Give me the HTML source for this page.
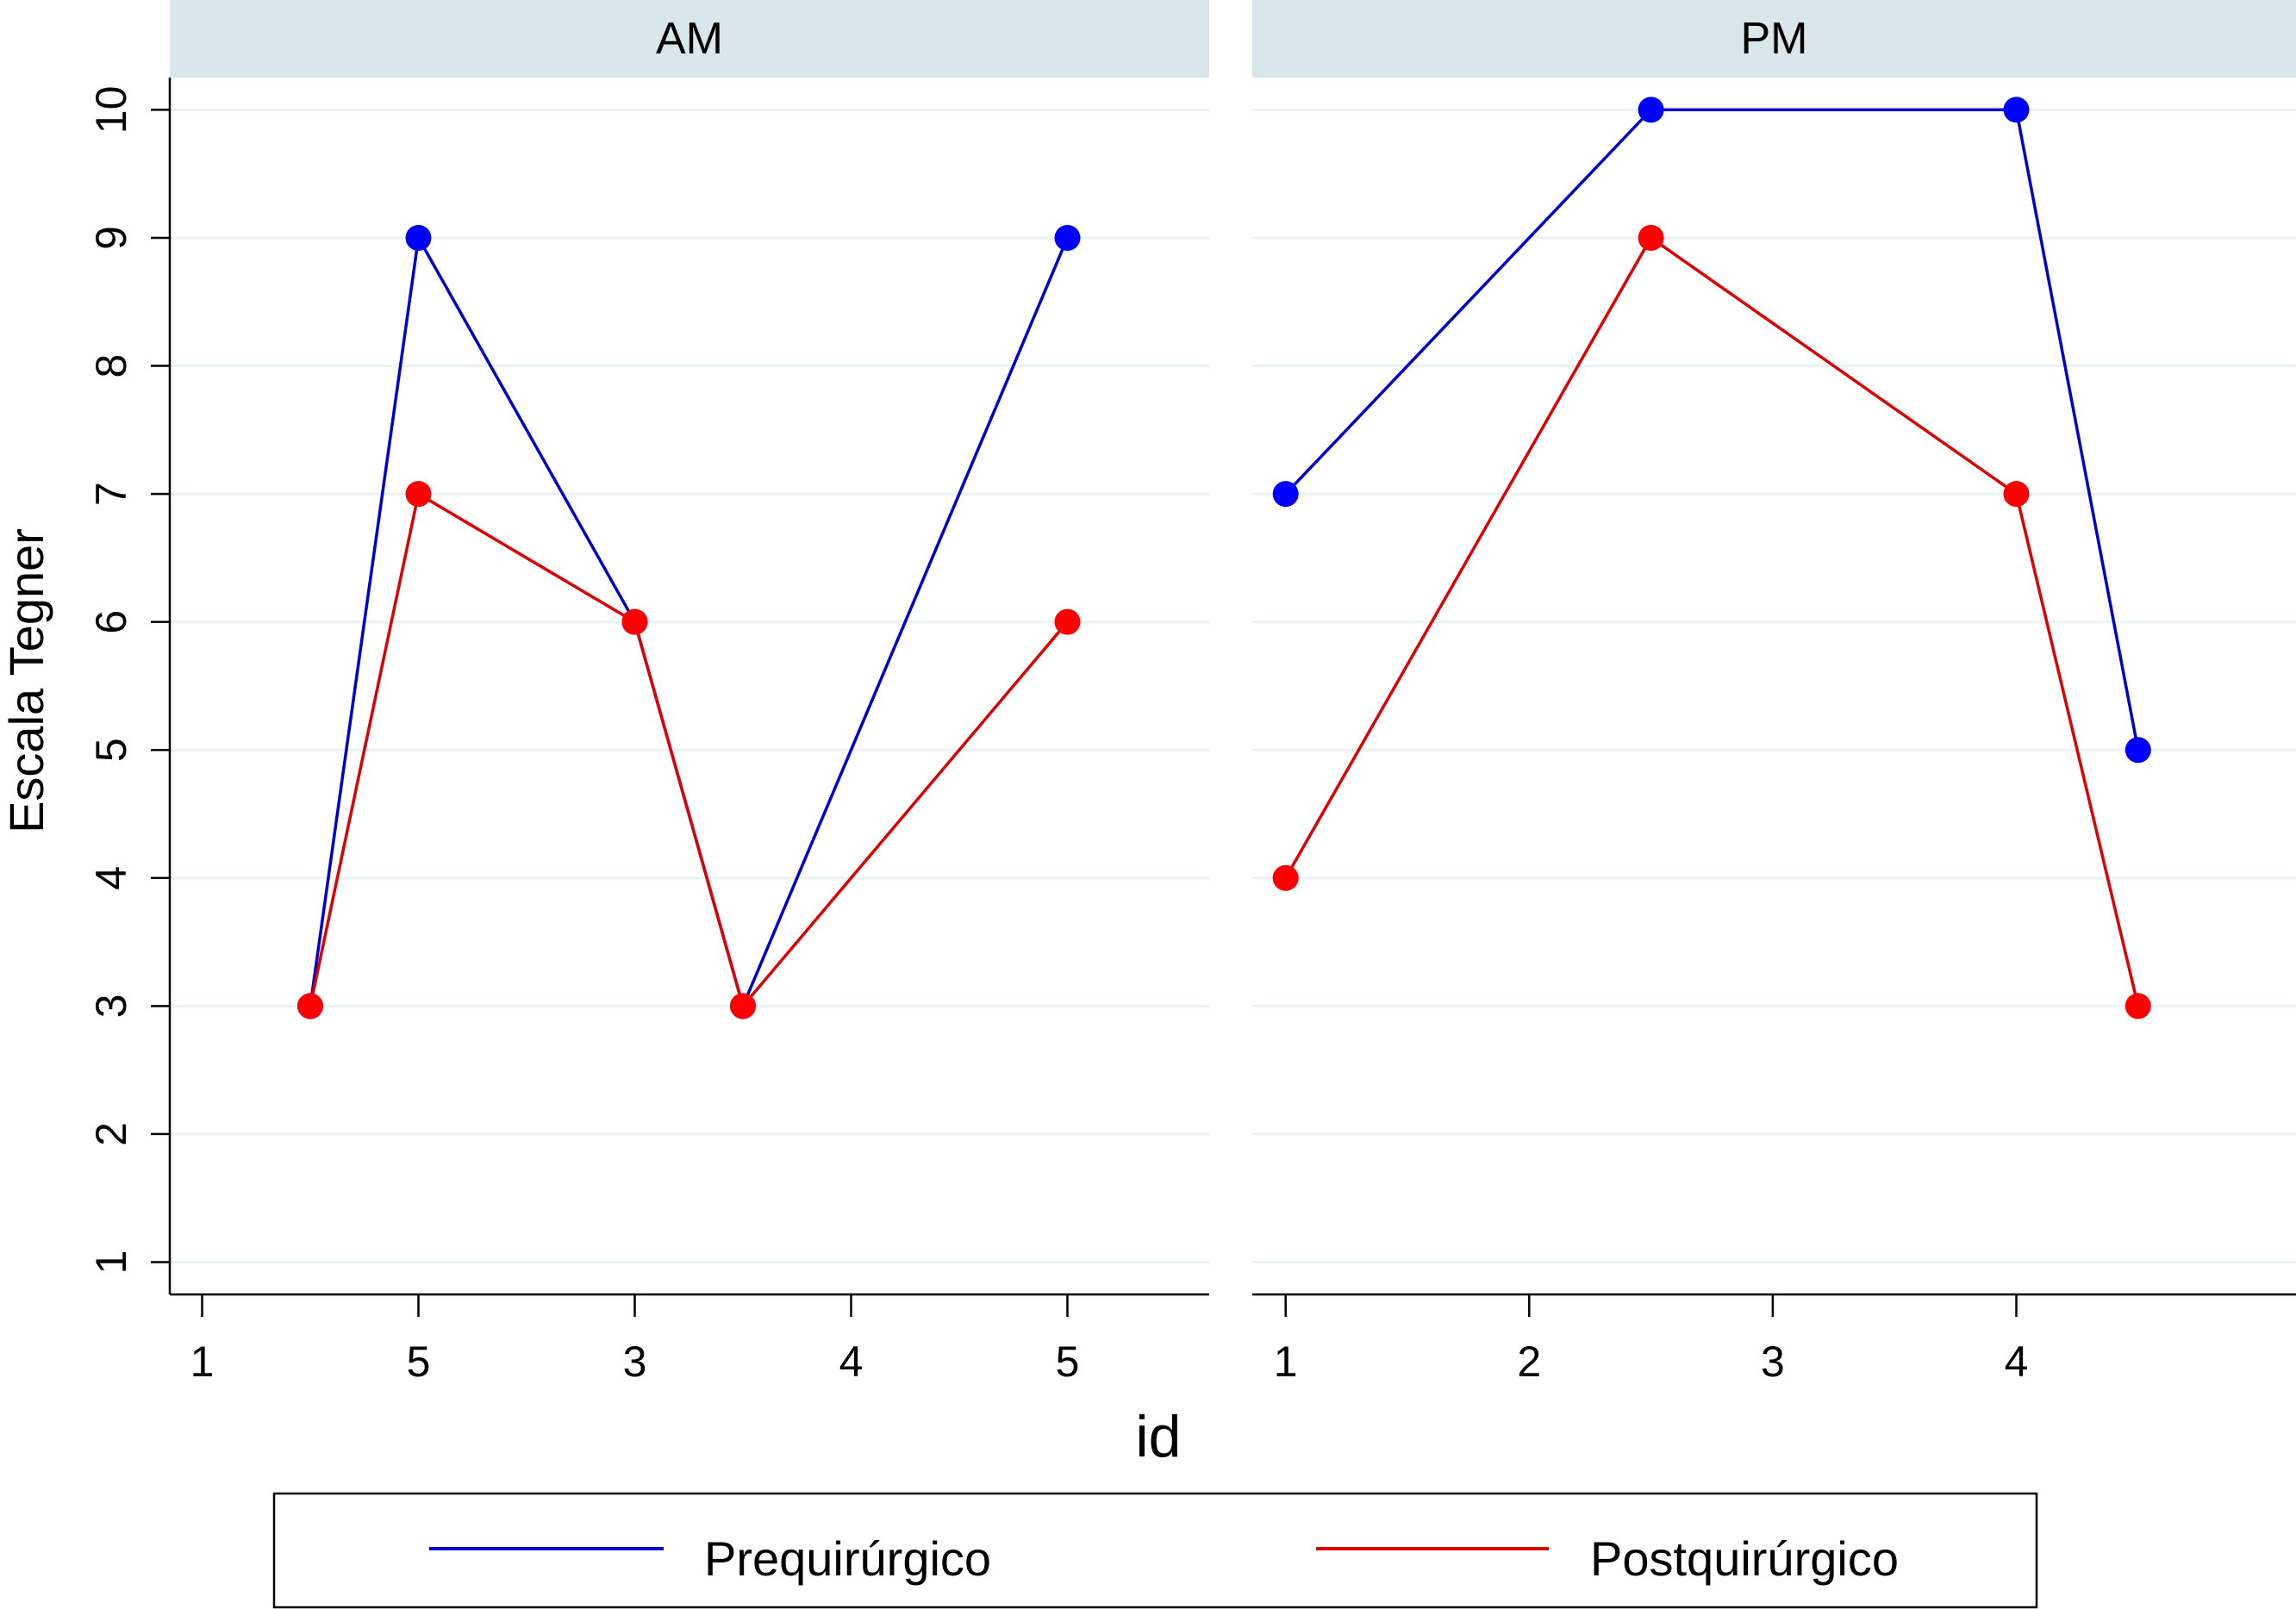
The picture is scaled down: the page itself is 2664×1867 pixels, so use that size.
<!DOCTYPE html>
<html><head><meta charset="utf-8"><style>html,body{margin:0;padding:0;background:#fff}svg{display:block}text{font-family:"Liberation Sans",Arial,sans-serif}</style></head>
<body>
<svg id="chart" width="2664" height="1867" viewBox="0 0 2664 1867" xmlns="http://www.w3.org/2000/svg"></svg>
<script>
const yTicks = [1,2,3,4,5,6,7,8,9,10];
const amTickValues = [1,2,3,4,5];
const amTickLabels = ["1","5","3","4","5"];
const amX = [1.5,2,3,3.5,5];
const amPre = [3,9,6,3,9];
const amPost = [3,7,6,3,6];
const pmTickValues = [1,2,3,4];
const pmTickLabels = ["1","2","3","4"];
const pmX = [1,2.5,4,4.5];
const pmPre = [7,10,10,5];
const pmPost = [4,9,7,3];

const NS = "http://www.w3.org/2000/svg";
const svg = document.getElementById('chart');
function mk(tag, attrs, parent){const e=document.createElementNS(NS,tag);for(const k in attrs)e.setAttribute(k,attrs[k]);(parent||svg).appendChild(e);return e;}
function yScale(v){return 1464.5 + (v-1)*(127.4-1464.5)/9;}
const plotTop=90, plotBottom=1502;

function panel(name,x0,x1,x1v,unit,tv,tl,xs,pre,post,showY){
  const g=mk('g',{});
  
  
  const xScale=v=>x1v+(v-1)*unit;
  const h=mk('rect',{x:x0,y:0,width:x1-x0,height:plotTop,fill:'#d9e6ec'},g);
  
  
  const ht=mk('text',{x:(x0+x1)/2,y:62,'font-size':52,'text-anchor':'middle',fill:'#000'},g);
  ht.textContent=name.toUpperCase();
  
  
  yTicks.forEach(v=>{
    const gl=mk('line',{x1:x0,x2:x1,y1:yScale(v),y2:yScale(v),stroke:'#eaf2f3','stroke-width':3},g);
    
    
  });
  if(showY){
    mk('line',{x1:x0,x2:x0,y1:plotTop,y2:plotBottom,stroke:'#000','stroke-width':2.5},g);
    yTicks.forEach(v=>{
      mk('line',{x1:x0-22,x2:x0,y1:yScale(v),y2:yScale(v),stroke:'#000','stroke-width':2.5},g);
      const t=mk('text',{x:0,y:0,'font-size':50,'text-anchor':'middle',transform:`translate(146,${yScale(v)}) rotate(-90)`},g);
      t.textContent=v;
      
      
    });
  }
  const ax=mk('line',{x1:x0,x2:x1,y1:plotBottom,y2:plotBottom,stroke:'#000','stroke-width':2.5},g);
  
  
  tv.forEach((v,i)=>{
    mk('line',{x1:xScale(v),x2:xScale(v),y1:plotBottom,y2:plotBottom+26,stroke:'#000','stroke-width':2.5},g);
    const t=mk('text',{x:xScale(v),y:1597,'font-size':50,'text-anchor':'middle'},g);
    t.textContent=tl[i];
    
    
  });
  [[pre,'#0000ff','#0000cc','prequirurgico'],[post,'#ff0000','#dd0000','postquirurgico']].forEach(([ys,fc,lc,sn])=>{
    const pts=xs.map((x,i)=>xScale(x)+','+yScale(ys[i])).join(' ');
    const pl=mk('polyline',{points:pts,fill:'none',stroke:lc,'stroke-width':3.5},g);
    
    
    xs.forEach((x,i)=>{
      const c=mk('circle',{cx:xScale(x),cy:yScale(ys[i]),r:15,fill:fc},g);
      
      
    });
  });
}
panel('am',197,1403,234.5,251,amTickValues,amTickLabels,amX,amPre,amPost,true);
panel('pm',1453,2664,1491.7,282.6,pmTickValues,pmTickLabels,pmX,pmPre,pmPost,false);

const yt=mk('text',{x:0,y:0,'font-size':56,'text-anchor':'middle',transform:'translate(50,790) rotate(-90)'});
yt.textContent='Escala Tegner';


const xt=mk('text',{x:1344,y:1690,'font-size':68,'text-anchor':'middle'});
xt.textContent='id';



const lg=mk('g',{});


mk('rect',{x:318,y:1733,width:2045,height:132,fill:'#fff',stroke:'#000','stroke-width':2.5},lg);
mk('line',{x1:498,x2:770,y1:1797,y2:1797,stroke:'#0000cc','stroke-width':4},lg);
const l1=mk('text',{x:817,y:1828,'font-size':56},lg);
l1.textContent='Prequirúrgico';


mk('line',{x1:1527,x2:1797,y1:1797,y2:1797,stroke:'#dd0000','stroke-width':4},lg);
const l2=mk('text',{x:1845,y:1828,'font-size':56},lg);
l2.textContent='Postquirúrgico';


</script>
</body></html>
